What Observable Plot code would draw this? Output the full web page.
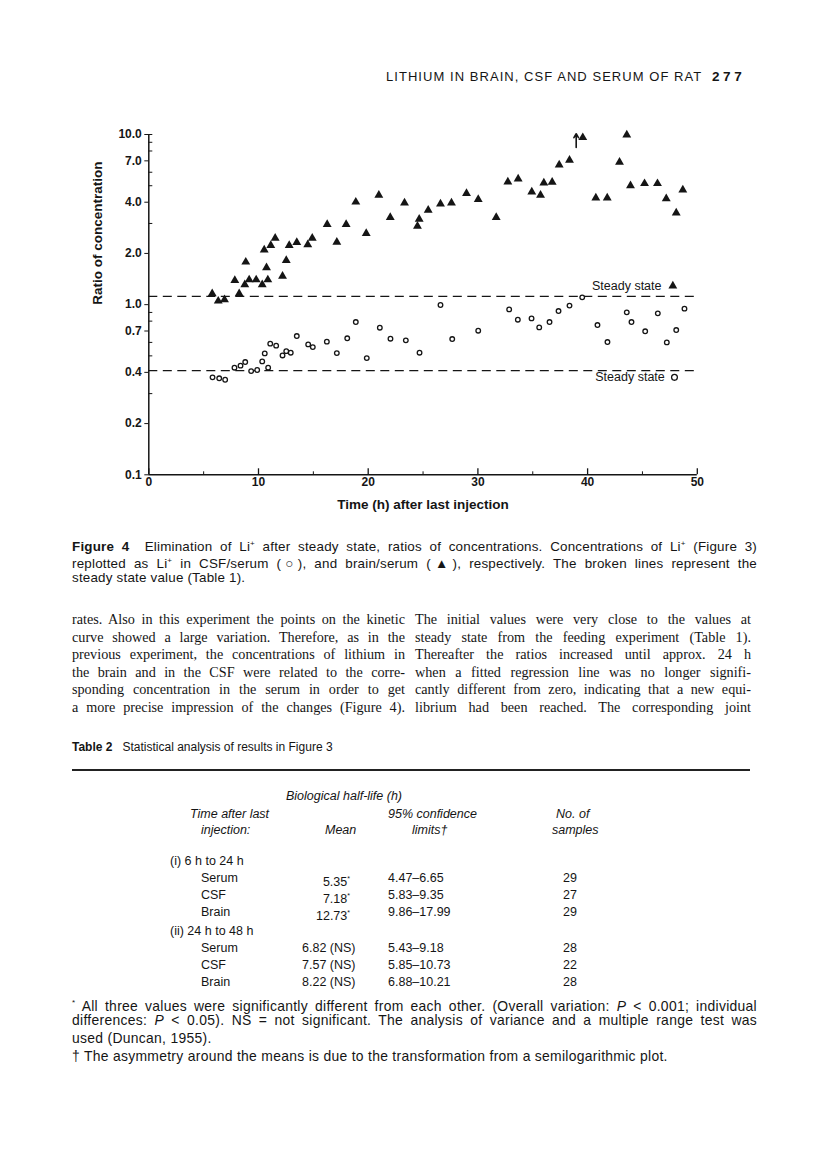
<!DOCTYPE html>
<html><head><meta charset="utf-8">
<script src="https://cdn.jsdelivr.net/npm/d3@7"></script>
<script src="https://cdn.jsdelivr.net/npm/@observablehq/plot@0.6"></script>
<style>
html,body{margin:0;padding:0;background:#fff;}
#page{position:relative;width:816px;height:1149px;overflow:hidden;background:#fff;color:#151515;font-family:"Liberation Sans",Arial,sans-serif;}
.ln{position:absolute;white-space:nowrap;}
.j{text-align:justify;text-align-last:justify;}
.serif{font-family:"Liberation Serif","Times New Roman",serif;}
.it{font-style:italic;}
#chart{position:absolute;left:0;top:120px;}
</style></head><body><div id="page"><div id="chart"></div></div>
<script>
// ---------- chart data ----------
const brainTime = [5.78,6.33,6.90,7.84,8.24,8.75,8.84,9.15,9.79,10.34,10.52,10.73,10.85,11.12,11.52,12.19,12.53,12.80,13.49,14.49,14.90,16.26,17.14,17.99,18.87,19.82,20.97,22.01,23.31,24.49,24.65,25.47,26.59,27.59,28.96,30.03,31.67,32.73,33.67,34.91,35.71,36.01,36.77,37.41,38.35,39.56,40.75,41.79,42.91,43.57,43.91,45.19,46.37,47.17,48.08,48.68];
const brainRatio = [1.16,1.05,1.07,1.39,1.16,1.31,1.78,1.40,1.40,1.31,2.10,1.65,1.40,2.23,2.46,1.47,1.82,2.23,2.32,2.25,2.46,2.96,2.33,2.96,4.01,2.62,4.40,3.26,3.96,2.89,3.18,3.59,3.91,3.96,4.50,4.15,3.26,5.26,5.48,4.60,4.40,5.19,5.24,6.63,7.06,9.60,4.24,4.24,6.87,9.95,5.01,5.15,5.15,4.20,3.46,4.72];
const csfTime = [5.81,6.42,6.96,7.81,8.36,8.79,9.33,9.88,10.34,10.57,10.88,11.07,11.61,12.19,12.53,12.94,13.49,14.53,14.95,16.23,17.14,18.09,18.87,19.87,21.06,22.03,23.43,24.68,26.59,27.66,30.03,32.85,33.64,34.89,35.59,36.53,37.35,38.35,39.51,40.90,41.81,43.57,44.00,45.25,46.40,47.22,48.08,48.83];
const csfRatio = [0.374,0.369,0.362,0.426,0.438,0.460,0.407,0.413,0.464,0.517,0.426,0.590,0.574,0.503,0.533,0.522,0.654,0.584,0.563,0.606,0.519,0.634,0.790,0.485,0.732,0.631,0.617,0.522,0.995,0.628,0.703,0.938,0.816,0.830,0.735,0.790,0.917,0.987,1.104,0.759,0.603,0.901,0.790,0.697,0.889,0.600,0.709,0.947];
const steadyBrain = 1.12, steadyCsf = 0.41;
const offScaleArrow = [{t: 38.96, from: 8.4, to: 10.1}];
const steadyLabels = [{t: 40.4, r: 1.29, text: "Steady state", sym: "triangle"}, {t: 40.7, r: 0.374, text: "Steady state", sym: "circle"}];
const steadyLabelMarkT = [47.77, 47.92];
const yMajorTicks = [0.1,0.2,0.4,0.7,1,2,4,7,10];
const yMinorTicks = [0.3,0.5,0.6,0.8,0.9,3,5,6,8,9,10];
const xMajorTicks = [0,10,20,30,40,50];
const xMinorTicks = [5,15,25,35,45];
const xTitle = "Time (h) after last injection";
const yTitle = "Ratio of concentration";

const brain = brainTime.map((t,i)=>({t, r: brainRatio[i]}));
const csf = csfTime.map((t,i)=>({t, r: csfRatio[i]}));
const ink = "#151515";

const chart = Plot.plot({
  width: 816, height: 400,
  marginLeft: 148.3, marginRight: 119.2, marginTop: 14, marginBottom: 45.7,
  style: {fontFamily: "Liberation Sans, Arial, sans-serif", color: ink, background: "transparent"},
  x: {domain: [0, 50]},
  y: {type: "log", domain: [0.1, 10]},
  marks: [
    Plot.ruleY([steadyBrain, steadyCsf], {stroke: ink, strokeWidth: 1.2, strokeDasharray: "9,5.5"}),
    Plot.ruleX([0], {stroke: ink, strokeWidth: 1.5}),
    Plot.ruleY([0.1], {stroke: ink, strokeWidth: 1.5}),
    Plot.axisY({ticks: yMajorTicks, tickSize: 4, tickFormat: () => "", label: null, stroke: ink}),
    Plot.text(yMajorTicks, {y: d => d, frameAnchor: "left", dx: -7, textAnchor: "end", text: d => d.toFixed(1), fontSize: 12, fontWeight: "bold", fill: ink}),
    Plot.axisY({ticks: yMinorTicks, tickSize: -4, tickFormat: () => "", label: null, stroke: ink}),
    Plot.axisX({ticks: xMajorTicks, tickSize: -6, tickFormat: () => "", label: null, stroke: ink, strokeWidth: 1.3}),
    Plot.axisX({ticks: xMinorTicks, tickSize: -3, tickFormat: () => "", label: null, stroke: ink}),
    Plot.axisX({ticks: xMajorTicks, tickSize: 0, tickPadding: 3, fontSize: 12, fontWeight: "bold", label: null, fill: ink}),
    Plot.text([xTitle], {frameAnchor: "bottom", dy: 34, fontSize: 13.5, fontWeight: "bold", fill: ink}),
    Plot.text([yTitle], {frameAnchor: "left", dx: -51, rotate: -90, fontSize: 13.5, fontWeight: "bold", fill: ink}),
    Plot.dot(csf, {x: "t", y: "r", r: 2.3, stroke: ink, strokeWidth: 1.3, fill: "white"}),
    Plot.dot(brain, {x: "t", y: "r", r: 3.3, symbol: "triangle", fill: ink, stroke: "none"}),
    Plot.arrow(offScaleArrow, {x: "t", y1: "from", y2: "to", stroke: ink, strokeWidth: 1.6, headLength: 5}),
    Plot.text(steadyLabels, {x: "t", y: "r", text: "text", textAnchor: "start", fontSize: 12.5, fill: ink}),
    Plot.dot(steadyLabels, {x: (d,i) => steadyLabelMarkT[i], y: "r", symbol: "sym", r: d => d.sym === "triangle" ? 2.8 : 2.2, fill: d => d.sym === "triangle" ? ink : "white", stroke: ink, strokeWidth: d => d.sym === "triangle" ? 0 : 1.3})
  ]
});
document.getElementById("chart").appendChild(chart);

// ---------- page text ----------
const page = document.getElementById("page");
function line(html, left, cy, opts = {}) {
  const d = document.createElement("div");
  d.className = "ln " + (opts.cls || "");
  const fs = opts.fs || 12.5;
  d.style.left = left + "px";
  d.style.top = (cy - fs * 0.62) + "px";
  d.style.lineHeight = (fs * 1.2) + "px";
  d.style.fontSize = fs + "px";
  if (opts.width) d.style.width = opts.width + "px";
  if (opts.ls) d.style.letterSpacing = opts.ls + "px";
  if (opts.weight) d.style.fontWeight = opts.weight;
  if (opts.align) d.style.textAlign = opts.align;
  d.innerHTML = html;
  page.appendChild(d);
  return d;
}
// running head
line("LITHIUM IN BRAIN, CSF AND SERUM OF RAT", 386, 77, {fs: 13, ls: 1.05});
line("277", 712, 77, {fs: 13.5, ls: 3.6, weight: "bold"});

// caption
const sup = "<sup style='font-size:8px'>+</sup>";
const captionLines = [
  "<b>Figure 4</b>&nbsp; Elimination of Li" + sup + " after steady state, ratios of concentrations. Concentrations of Li" + sup + " (Figure 3)",
  "replotted as Li" + sup + " in CSF/serum (○), and brain/serum (▲), respectively. The broken lines represent the",
  "steady state value (Table 1)."
];
const captionY = [544, 561, 578];
captionLines.forEach((t,i) => line(t, 72, captionY[i], {fs: 13.4, ls: 0.2, width: 685, cls: i < 2 ? "j" : ""}));

// body text, two columns
const leftCol = [
  "rates. Also in this experiment the points on the kinetic",
  "curve showed a large variation. Therefore, as in the",
  "previous experiment, the concentrations of lithium in",
  "the brain and in the CSF were related to the corre-",
  "sponding concentration in the serum in order to get",
  "a more precise impression of the changes (Figure 4)."
];
const rightCol = [
  "The initial values were very close to the values at",
  "steady state from the feeding experiment (Table 1).",
  "Thereafter the ratios increased until approx. 24 h",
  "when a fitted regression line was no longer signifi-",
  "cantly different from zero, indicating that a new equi-",
  "librium had been reached. The corresponding joint"
];
const bodyY = [620, 638, 655, 673, 690, 708];
leftCol.forEach((t,i) => line(t, 72, bodyY[i], {fs: 14.2, width: 333, cls: "serif j"}));
rightCol.forEach((t,i) => line(t, 415, bodyY[i], {fs: 14.2, width: 336, cls: "serif j"}));

// table
line("<b>Table 2</b>&nbsp;&nbsp; Statistical analysis of results in Figure 3", 72, 747, {fs: 12});
const rule = document.createElement("div");
rule.style.cssText = "position:absolute;left:72px;top:769px;width:678px;height:1.5px;background:#222;";
page.appendChild(rule);

line("Biological half-life (h)", 286, 797, {cls: "it"});
line("Time after last", 190, 815, {cls: "it"});
line("injection:", 201, 831, {cls: "it"});
line("Mean", 325, 831, {cls: "it"});
line("95% confidence", 388, 815, {cls: "it"});
line("limits†", 412, 831, {cls: "it"});
line("No. of", 556, 815, {cls: "it"});
line("samples", 552, 831, {cls: "it"});

const star = "<sup style='font-size:7px'>*</sup>";
const groups = [
  {title: "(i) 6 h to 24 h", y: 862, rows: [
    ["Serum", "5.35" + star, "4.47–6.65", "29"],
    ["CSF", "7.18" + star, "5.83–9.35", "27"],
    ["Brain", "12.73" + star, "9.86–17.99", "29"]]},
  {title: "(ii) 24 h to 48 h", y: 932, rows: [
    ["Serum", "6.82 (NS)", "5.43–9.18", "28"],
    ["CSF", "7.57 (NS)", "5.85–10.73", "22"],
    ["Brain", "8.22 (NS)", "6.88–10.21", "28"]]}
];
const rowStep = 16.9;
groups.forEach((g, gi) => {
  line(g.title, 170, g.y);
  g.rows.forEach((r, i) => {
    const y = g.y + rowStep * (i + 1);
    line(r[0], 201, y);
    if (gi === 0) line(r[1], 290, y, {width: 60, align: "right"});
    else line(r[1], 302, y);
    line(r[2], 388, y);
    line(r[3], 563, y);
  });
});

// footnotes
const notes = [
  "<sup style='font-size:8px'>*</sup> All three values were significantly different from each other. (Overall variation: <i>P</i> &lt; 0.001; individual",
  "differences: <i>P</i> &lt; 0.05). NS = not significant. The analysis of variance and a multiple range test was",
  "used (Duncan, 1955).",
  "† The asymmetry around the means is due to the transformation from a semilogarithmic plot."
];
const notesY = [1004, 1021, 1039, 1057];
notes.forEach((t,i) => line(t, 72, notesY[i], {fs: 13.9, ls: 0.3, width: 685, cls: i < 2 ? "j" : ""}));
</script></body></html>
